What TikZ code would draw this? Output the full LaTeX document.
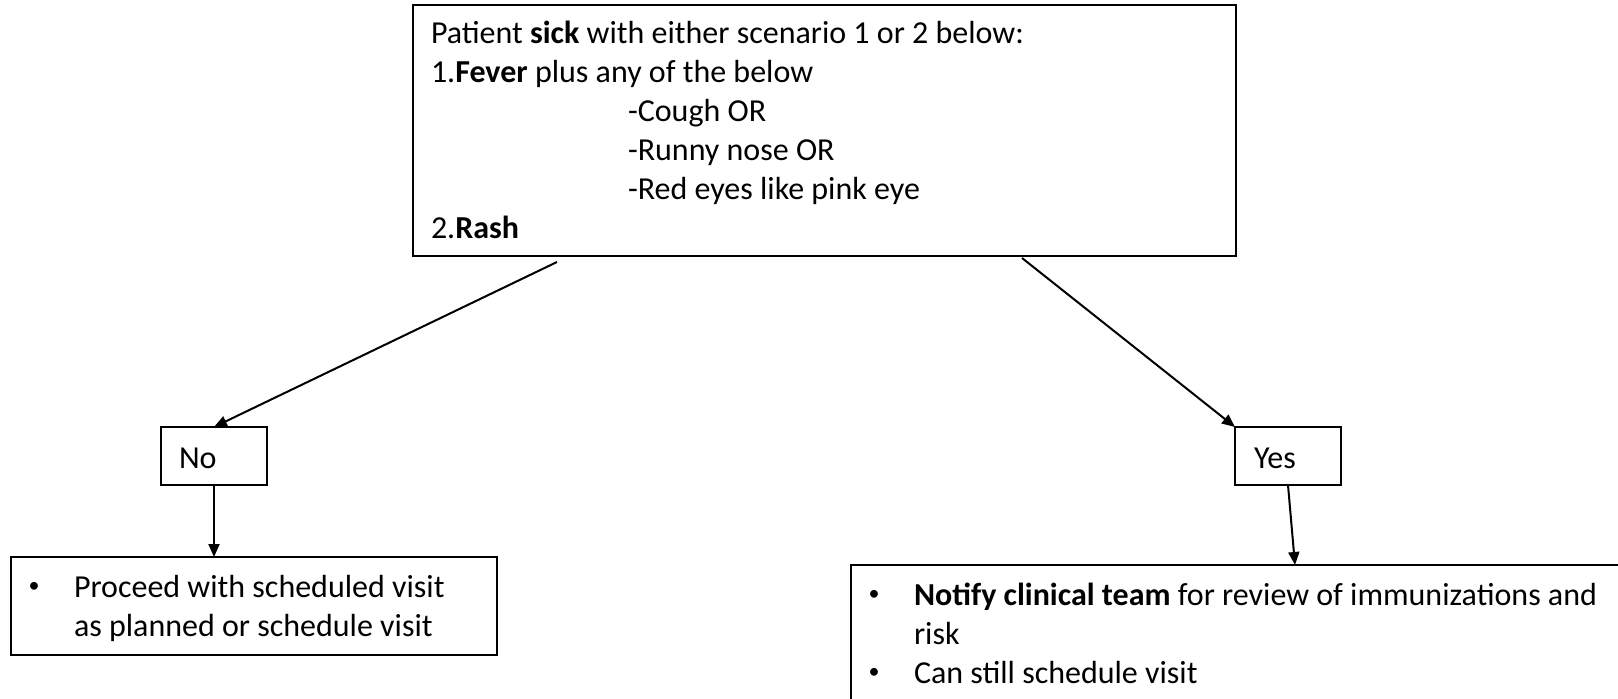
\documentclass[tikz,border=0pt]{standalone}
\usepackage{fontspec}
\setmainfont{Carlito}
\usetikzlibrary{arrows.meta}
\begin{document}
\begin{tikzpicture}[x=1pt,y=-1pt,
  box/.style={draw=black,line width=2pt,inner sep=0pt,outer sep=0pt,anchor=north west},
  txt/.style={inner sep=0pt,outer sep=0pt,anchor=base west,font=\fontsize{32}{39}\selectfont},
  bul/.style={inner sep=0pt,outer sep=0pt,anchor=center,font=\fontsize{22}{26}\selectfont},
  conn/.style={line width=2pt,-{Triangle[length=13pt,width=11pt]}}]
\useasboundingbox (0,0) rectangle (1618,699);
\clip (0,0) rectangle (1618,699);
\fill[white] (0,0) rectangle (1618,699);
% top box
\node[box,minimum width=823pt,minimum height=251pt] (top) at (413,5) {};
\node[txt] (t1) at (431,43) {Patient \textbf{sick} with either scenario 1 or 2 below:};
\node[txt] (t2) at (431,82) {1.\textbf{Fever} plus any of the below};
\node[txt] (t3) at (628,121) {-Cough OR};
\node[txt] (t4) at (628,160) {-Runny nose OR};
\node[txt] (t5) at (628,199) {-Red eyes like pink eye};
\node[txt] (t6) at (431,238) {2.\textbf{Rash}};
% no / yes boxes
\node[box,minimum width=106pt,minimum height=58pt] (no) at (161,427) {};
\node[txt] (notext) at (179,468) {No};
\node[box,minimum width=106pt,minimum height=58pt] (yes) at (1235,427) {};
\node[txt] (yestext) at (1254,468) {Yes};
% bottom left box
\node[box,minimum width=486pt,minimum height=98pt] (lbox) at (11,557) {};
\node[bul] (lb1) at (34,587) {•};
\node[txt] (l1) at (74,597) {Proceed with scheduled visit};
\node[txt] (l2) at (74,636) {as planned or schedule visit};
% bottom right box
\node[box,minimum width=800pt,minimum height=200pt] (rbox) at (851,565) {};
\node[bul] (rb1) at (874,595) {•};
\node[txt] (r1) at (914,605) {\textbf{Notify clinical team} for review of immunizations and};
\node[txt] (r2) at (914,644) {risk};
\node[bul] (rb2) at (874,673) {•};
\node[txt] (r3) at (914,683) {Can still schedule visit};
% connectors
\coordinate (ls) at (557,262);
\coordinate (rs) at (1022,258);
\coordinate (ytip) at (1295,565);
\draw[conn] (ls) -- (no.north);
\draw[conn] (rs) -- (yes.north west);
\draw[conn] (no.south) -- (no.south |- lbox.north);
\draw[conn] (yes.south) -- (ytip);
\end{tikzpicture}
\end{document}
